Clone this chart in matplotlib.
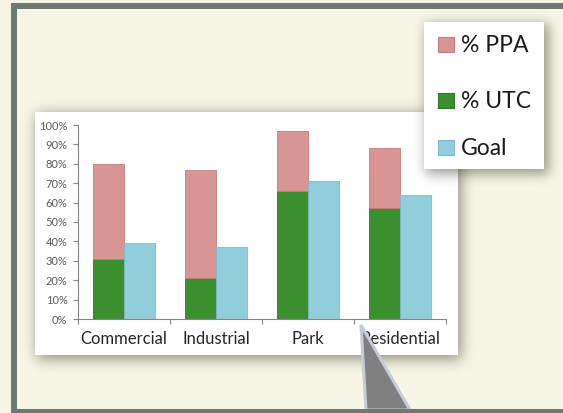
import math
import numpy as np
import matplotlib
matplotlib.use("Agg")
import matplotlib.pyplot as plt
from matplotlib.patches import Rectangle, Polygon
from matplotlib.ticker import FuncFormatter

# Share of each land-use class: existing canopy (UTC), additional possible
# planting area (PPA, stacked on top of UTC) and the canopy goal.
categories = ["Commercial", "Industrial", "Park", "Residential"]
utc = [31, 21, 66, 57]
ppa = [49, 56, 31, 31]
goal = [39, 37, 71, 64]
y_ticks = list(range(0, 101, 10))
series_labels = ["% PPA", "% UTC", "Goal"]

W, H = 563, 413
CREAM = "#f6f4e4"
FRAME = "#6d7a71"
colors = {"% PPA": ("#d99594", "#c57d7c"),
          "% UTC": ("#3b8f2f", "#2f7a26"),
          "Goal": ("#92cddc", "#7db9d1")}

plt.rcParams["font.family"] = ["Lato", "DejaVu Sans"]

fig = plt.figure(figsize=(W / 100, H / 100), dpi=100)
fig.patch.set_facecolor(CREAM)


def px_rect(x0, y0, x1, y1):
    return [x0 / W, 1 - y1 / H, (x1 - x0) / W, (y1 - y0) / H]


def soft_shadow(ax, box, sigma, strength, z):
    x0, y0, x1, y1 = box
    erf = np.vectorize(math.erf)
    xs = np.arange(W) + 0.5
    ys = np.arange(H) + 0.5
    k = sigma * math.sqrt(2)
    fx = 0.5 * (erf((xs - x0) / k) - erf((xs - x1) / k))
    fy = 0.5 * (erf((ys - y0) / k) - erf((ys - y1) / k))
    img = np.zeros((H, W, 4))
    img[..., 0] = 0.22
    img[..., 1] = 0.22
    img[..., 2] = 0.17
    img[..., 3] = strength * fy[:, None] * fx[None, :]
    ax.imshow(img, extent=(0, W, H, 0), interpolation="bilinear",
              zorder=z, aspect="auto")


# ---- background layer: slide frame, panel and legend box ----
bg = fig.add_axes([0, 0, 1, 1], zorder=0)
bg.set_xlim(0, W)
bg.set_ylim(H, 0)
bg.axis("off")
bg.add_patch(Rectangle((0, 0), W, H, fc=CREAM, ec="none", zorder=0))
bg.add_patch(Rectangle((11, 3), W, H, fc="#f7f5e5", ec="none", zorder=0.5))
bg.add_patch(Rectangle((11, 3), 5.5, H, fc=FRAME, ec="none", zorder=1))
bg.add_patch(Rectangle((11, 3), W, 5.5, fc=FRAME, ec="none", zorder=1))

soft_shadow(bg, (37, 114, 461, 359), 7, 0.55, 2)
bg.add_patch(Rectangle((35, 112), 458 - 35, 355 - 112, fc="white", ec="none", zorder=3))
soft_shadow(bg, (426, 24, 549, 174), 6, 0.5, 4)
bg.add_patch(Rectangle((424, 22), 544 - 424, 169 - 22, fc="white", ec="none", zorder=5))

# ---- the chart ----
ax = fig.add_axes(px_rect(78, 125, 446, 319), zorder=1)
ax.set_facecolor("none")
x = np.arange(len(categories))
w = 1 / 3
ax.bar(x - w / 2, utc, w, color=colors["% UTC"][0], edgecolor=colors["% UTC"][1],
       linewidth=0.6, zorder=2)
ax.bar(x - w / 2, ppa, w, bottom=utc, color=colors["% PPA"][0],
       edgecolor=colors["% PPA"][1], linewidth=0.6, zorder=2)
ax.bar(x + w / 2, goal, w, color=colors["Goal"][0], edgecolor=colors["Goal"][1],
       linewidth=0.6, zorder=2)

ax.set_xlim(-0.5, len(categories) - 0.5)
ax.set_ylim(0, 100)
ax.set_yticks(y_ticks)
ax.yaxis.set_major_formatter(FuncFormatter(lambda v, _: f"{v:.0f}%"))
ax.set_xticks(x)
ax.set_xticklabels(categories)
ax.set_xticks(np.arange(-0.5, len(categories), 1.0), minor=True)
for side in ("top", "right"):
    ax.spines[side].set_visible(False)
for side in ("left", "bottom"):
    ax.spines[side].set_color("#868686")
    ax.spines[side].set_linewidth(0.8)
ax.tick_params(axis="y", length=3.6, width=0.8, color="#868686", pad=4,
               labelsize=8, labelcolor="#595959")
ax.tick_params(axis="x", which="major", length=0, pad=9, labelsize=12,
               labelcolor="#262626")
ax.tick_params(axis="x", which="minor", length=3.6, width=0.8, color="#868686")

# ---- overlay: legend entries and callout pointer ----
ov = fig.add_axes([0, 0, 1, 1], zorder=3)
ov.set_xlim(0, W)
ov.set_ylim(H, 0)
ov.axis("off")
ov.set_facecolor("none")
for label, base in zip(series_labels, [52, 108, 155]):
    fc, ec = colors[label]
    ov.add_patch(Rectangle((437.5, base - 15), 16, 14.5, fc=fc, ec=ec, lw=0.8))
    ov.text(461, base, label, fontsize=16.5, color="#1a1a1a", va="baseline",
            ha="left")

ov.add_patch(Polygon([(361, 325), (366, 410), (410, 410)], closed=True,
                     fc="#808080", ec="#c6cbd7", lw=2.2, joinstyle="miter"))
ov.add_patch(Rectangle((11, 408.5), W, 6, fc=FRAME, ec="none"))

fig.savefig("out.png", dpi=100, facecolor=CREAM)
